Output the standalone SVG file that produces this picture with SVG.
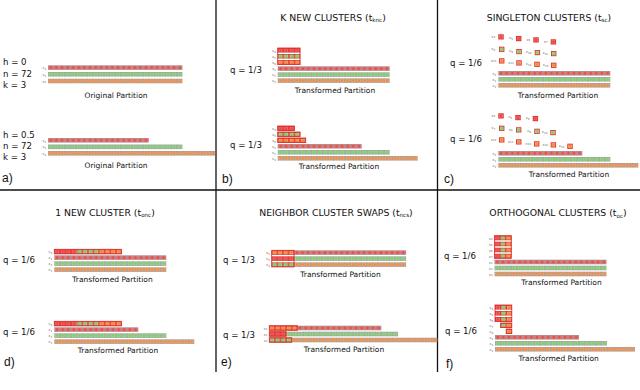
<svg xmlns="http://www.w3.org/2000/svg" xmlns:xlink="http://www.w3.org/1999/xlink" width="640" height="390" viewBox="0 0 640 390">
<style>
text{font-family:"DejaVu Sans","Liberation Sans",sans-serif;fill:#111}
.lbl{font-size:8.6px}
.ttl{font-size:9.3px;text-anchor:middle}
.cap{font-size:7.5px;text-anchor:middle}
.pl{font-family:"Liberation Sans",Arial,sans-serif;font-size:12px}
.cl{font-size:3.6px;fill:#555}
.cs{font-size:2.6px}
.sub{font-size:5.6px}
.ol{fill:none;stroke:#dd2222;stroke-width:0.8}
.div{stroke:#111;stroke-width:1.3;fill:none}
</style>
<defs>
<pattern id="pR" width="5.6" height="4.6" patternUnits="userSpaceOnUse"><rect width="5.6" height="4.6" fill="#9c9c9c"/><rect x="0.55" y="0.55" width="4.5" height="3.5" fill="#f26a6a"/><rect x="1.7" y="1.3" width="2.2" height="2" fill="#e04848"/></pattern>
<pattern id="pG" width="5.6" height="4.6" patternUnits="userSpaceOnUse"><rect width="5.6" height="4.6" fill="#9c9c9c"/><rect x="0.55" y="0.55" width="4.5" height="3.5" fill="#9cd98e"/><rect x="1.7" y="1.3" width="2.2" height="2" fill="#7cc96e"/></pattern>
<pattern id="pO" width="5.6" height="4.6" patternUnits="userSpaceOnUse"><rect width="5.6" height="4.6" fill="#9c9c9c"/><rect x="0.55" y="0.55" width="4.5" height="3.5" fill="#f6a266"/><rect x="1.7" y="1.3" width="2.2" height="2" fill="#ec8844"/></pattern>
<pattern id="pRb" width="5.6" height="4.6" patternUnits="userSpaceOnUse"><rect width="5.6" height="4.6" fill="#e02a26"/><rect x="0.6" y="0.6" width="4.4" height="3.4" fill="#f26a6a"/><rect x="1.7" y="1.3" width="2.2" height="2" fill="#e04848"/></pattern>
<pattern id="pGb" width="5.6" height="4.6" patternUnits="userSpaceOnUse"><rect width="5.6" height="4.6" fill="#e02a26"/><rect x="0.6" y="0.6" width="4.4" height="3.4" fill="#9cd98e"/><rect x="1.7" y="1.3" width="2.2" height="2" fill="#7cc96e"/></pattern>
<pattern id="pOb" width="5.6" height="4.6" patternUnits="userSpaceOnUse"><rect width="5.6" height="4.6" fill="#e02a26"/><rect x="0.6" y="0.6" width="4.4" height="3.4" fill="#f6a266"/><rect x="1.7" y="1.3" width="2.2" height="2" fill="#ec8844"/></pattern>
<pattern id="pMix" width="16.8" height="4.6" patternUnits="userSpaceOnUse"><rect width="16.8" height="4.6" fill="#e02a26"/><rect x="0.6" y="0.6" width="4.4" height="3.4" fill="#f26a6a"/><rect x="6.2" y="0.6" width="4.4" height="3.4" fill="#9cd98e"/><rect x="11.8" y="0.6" width="4.4" height="3.4" fill="#f6a266"/><rect x="1.7" y="1.3" width="2.2" height="2" fill="#e04848"/><rect x="7.3" y="1.3" width="2.2" height="2" fill="#7cc96e"/><rect x="12.9" y="1.3" width="2.2" height="2" fill="#ec8844"/></pattern>
<g id="sR"><rect width="5.4" height="5.2" fill="#e02a26"/><rect x="0.8" y="0.8" width="3.8" height="3.6" fill="#f26a6a"/><rect x="1.7" y="1.6" width="2" height="2" fill="#e04848"/></g>
<g id="sG"><rect width="5.4" height="5.2" fill="#e02a26"/><rect x="0.8" y="0.8" width="3.8" height="3.6" fill="#9cd98e"/><rect x="1.7" y="1.6" width="2" height="2" fill="#7cc96e"/></g>
<g id="sO"><rect width="5.4" height="5.2" fill="#e02a26"/><rect x="0.8" y="0.8" width="3.8" height="3.6" fill="#f6a266"/><rect x="1.7" y="1.6" width="2" height="2" fill="#ec8844"/></g>
</defs>
<rect width="640" height="390" fill="#fff"/>

<g id="dividers">
<line class="div" x1="0" y1="190" x2="640" y2="190"/>
<line class="div" x1="216" y1="0" x2="216" y2="372"/>
<line class="div" x1="437.5" y1="0" x2="437.5" y2="372"/>
</g>

<g id="panel-a">
<text class="lbl" x="3" y="65.3">h = 0</text>
<text class="lbl" x="3" y="76.5">n = 72</text>
<text class="lbl" x="3" y="87.5">k = 3</text>
<rect transform="translate(48,65.3)" width="134.4" height="4.6" fill="url(#pR)"/>
<rect transform="translate(48,72)" width="134.4" height="4.6" fill="url(#pG)"/>
<rect transform="translate(48,78.7)" width="134.4" height="4.6" fill="url(#pO)"/>
<text class="cl" x="42.5" y="69.2">c<tspan class="cs" dy="0.6">1</tspan></text>
<text class="cl" x="42.5" y="75.9">c<tspan class="cs" dy="0.6">2</tspan></text>
<text class="cl" x="42.5" y="82.6">c<tspan class="cs" dy="0.6">3</tspan></text>
<text class="cap" x="116" y="98">Original Partition</text>
<text class="lbl" x="3" y="138">h = 0.5</text>
<text class="lbl" x="3" y="149">n = 72</text>
<text class="lbl" x="3" y="159.5">k = 3</text>
<rect transform="translate(48,138)" width="100.8" height="4.6" fill="url(#pR)"/>
<rect transform="translate(48,144.5)" width="134.4" height="4.6" fill="url(#pG)"/>
<rect transform="translate(48,151)" width="167" height="4.6" fill="url(#pO)"/>
<text class="cl" x="42.5" y="141.9">c<tspan class="cs" dy="0.6">1</tspan></text>
<text class="cl" x="42.5" y="148.4">c<tspan class="cs" dy="0.6">2</tspan></text>
<text class="cl" x="42.5" y="154.9">c<tspan class="cs" dy="0.6">3</tspan></text>
<text class="cap" x="116" y="167.5">Original Partition</text>
<text class="pl" x="2" y="182">a)</text>
</g>

<g id="panel-b">
<text class="ttl" x="333" y="20.7">K NEW CLUSTERS (t<tspan class="sub" dy="1.5">knc</tspan><tspan dy="-1.5">)</tspan></text>
<text class="lbl" x="230" y="73">q = 1/3</text>
<rect transform="translate(277.7,48)" width="22.4" height="4.6" fill="url(#pRb)"/>
<rect transform="translate(277.7,54)" width="22.4" height="4.6" fill="url(#pGb)"/>
<rect transform="translate(277.7,60)" width="22.4" height="4.6" fill="url(#pOb)"/>
<rect class="ol" x="277.7" y="48" width="22.4" height="16.6"/>
<rect transform="translate(277.7,66.3)" width="112" height="4.6" fill="url(#pR)"/>
<rect transform="translate(277.7,72.3)" width="112" height="4.6" fill="url(#pG)"/>
<rect transform="translate(277.7,78.3)" width="112" height="4.6" fill="url(#pO)"/>
<text class="cl" x="272.3" y="51.9">c<tspan class="cs" dy="0.6">4</tspan></text>
<text class="cl" x="272.3" y="57.9">c<tspan class="cs" dy="0.6">5</tspan></text>
<text class="cl" x="272.3" y="63.9">c<tspan class="cs" dy="0.6">6</tspan></text>
<text class="cl" x="272.3" y="70.2">c<tspan class="cs" dy="0.6">1</tspan></text>
<text class="cl" x="272.3" y="76.2">c<tspan class="cs" dy="0.6">2</tspan></text>
<text class="cl" x="272.3" y="82.2">c<tspan class="cs" dy="0.6">3</tspan></text>
<text class="cap" x="335" y="93">Transformed Partition</text>
<text class="lbl" x="230" y="148">q = 1/3</text>
<rect transform="translate(277.7,126)" width="16.8" height="4.6" fill="url(#pRb)"/>
<rect transform="translate(277.7,132)" width="22.4" height="4.6" fill="url(#pGb)"/>
<rect transform="translate(277.7,138)" width="28" height="4.6" fill="url(#pOb)"/>
<rect class="ol" x="277.7" y="126" width="16.8" height="4.6"/>
<rect class="ol" x="277.7" y="132" width="22.4" height="4.6"/>
<rect class="ol" x="277.7" y="138" width="28" height="4.6"/>
<rect transform="translate(277.7,144)" width="84" height="4.6" fill="url(#pR)"/>
<rect transform="translate(277.7,150)" width="112" height="4.6" fill="url(#pG)"/>
<rect transform="translate(277.7,156)" width="140" height="4.6" fill="url(#pO)"/>
<text class="cl" x="272.3" y="129.9">c<tspan class="cs" dy="0.6">4</tspan></text>
<text class="cl" x="272.3" y="135.9">c<tspan class="cs" dy="0.6">5</tspan></text>
<text class="cl" x="272.3" y="141.9">c<tspan class="cs" dy="0.6">6</tspan></text>
<text class="cl" x="272.3" y="147.9">c<tspan class="cs" dy="0.6">1</tspan></text>
<text class="cl" x="272.3" y="153.9">c<tspan class="cs" dy="0.6">2</tspan></text>
<text class="cl" x="272.3" y="159.9">c<tspan class="cs" dy="0.6">3</tspan></text>
<text class="cap" x="339" y="169">Transformed Partition</text>
<text class="pl" x="222" y="183">b)</text>
</g>

<g id="panel-c">
<text class="ttl" x="549" y="20.7">SINGLETON CLUSTERS (t<tspan class="sub" dy="1.5">sc</tspan><tspan dy="-1.5">)</tspan></text>
<text class="lbl" x="450" y="65.5">q = 1/6</text>
<use xlink:href="#sR" x="498.3" y="34.3"/><text class="cl" x="491.5" y="37.5">c<tspan class="cs" dy="0.6">4</tspan></text>
<use xlink:href="#sR" x="516" y="36"/><text class="cl" x="509.3" y="39.2">c<tspan class="cs" dy="0.6">5</tspan></text>
<use xlink:href="#sR" x="533.3" y="37.3"/><text class="cl" x="526.6" y="40.5">c<tspan class="cs" dy="0.6">6</tspan></text>
<use xlink:href="#sR" x="550.7" y="39.3"/><text class="cl" x="544" y="42.5">c<tspan class="cs" dy="0.6">7</tspan></text>
<use xlink:href="#sG" x="499" y="46.7"/><text class="cl" x="491.5" y="49.9">c<tspan class="cs" dy="0.6">8</tspan></text>
<use xlink:href="#sG" x="516.3" y="49"/><text class="cl" x="509.3" y="52.2">c<tspan class="cs" dy="0.6">9</tspan></text>
<use xlink:href="#sG" x="534.7" y="50"/><text class="cl" x="526" y="53.2">c<tspan class="cs" dy="0.6">10</tspan></text>
<use xlink:href="#sG" x="551" y="51"/><text class="cl" x="542.7" y="54.2">c<tspan class="cs" dy="0.6">11</tspan></text>
<use xlink:href="#sO" x="499" y="58.3"/><text class="cl" x="491" y="61.5">c<tspan class="cs" dy="0.6">12</tspan></text>
<use xlink:href="#sO" x="516.3" y="60.3"/><text class="cl" x="508.3" y="63.5">c<tspan class="cs" dy="0.6">13</tspan></text>
<use xlink:href="#sO" x="534.3" y="61.7"/><text class="cl" x="526" y="64.9">c<tspan class="cs" dy="0.6">14</tspan></text>
<use xlink:href="#sO" x="551" y="62.7"/><text class="cl" x="543" y="65.9">c<tspan class="cs" dy="0.6">15</tspan></text>
<rect transform="translate(498.3,71)" width="112" height="4.6" fill="url(#pR)"/>
<rect transform="translate(498.3,77)" width="112" height="4.6" fill="url(#pG)"/>
<rect transform="translate(498.3,83)" width="112" height="4.6" fill="url(#pO)"/>
<text class="cl" x="492.5" y="74.9">c<tspan class="cs" dy="0.6">1</tspan></text>
<text class="cl" x="492.5" y="80.9">c<tspan class="cs" dy="0.6">2</tspan></text>
<text class="cl" x="492.5" y="86.9">c<tspan class="cs" dy="0.6">3</tspan></text>
<text class="cap" x="558" y="97.5">Transformed Partition</text>
<text class="lbl" x="450" y="142">q = 1/6</text>
<use xlink:href="#sR" x="498.3" y="113.3"/><text class="cl" x="491.5" y="116.5">c<tspan class="cs" dy="0.6">4</tspan></text>
<use xlink:href="#sR" x="515.3" y="115"/><text class="cl" x="508.6" y="118.2">c<tspan class="cs" dy="0.6">5</tspan></text>
<use xlink:href="#sR" x="532.7" y="116"/><text class="cl" x="526" y="119.2">c<tspan class="cs" dy="0.6">6</tspan></text>
<use xlink:href="#sG" x="499" y="125.7"/><text class="cl" x="491.5" y="128.9">c<tspan class="cs" dy="0.6">7</tspan></text>
<use xlink:href="#sG" x="516" y="127.3"/><text class="cl" x="509" y="130.5">c<tspan class="cs" dy="0.6">8</tspan></text>
<use xlink:href="#sG" x="534.3" y="128.7"/><text class="cl" x="527.3" y="131.9">c<tspan class="cs" dy="0.6">9</tspan></text>
<use xlink:href="#sG" x="550.3" y="130"/><text class="cl" x="542" y="133.2">c<tspan class="cs" dy="0.6">10</tspan></text>
<use xlink:href="#sO" x="499" y="137.3"/><text class="cl" x="491" y="140.5">c<tspan class="cs" dy="0.6">11</tspan></text>
<use xlink:href="#sO" x="516" y="139.3"/><text class="cl" x="508" y="142.5">c<tspan class="cs" dy="0.6">12</tspan></text>
<use xlink:href="#sO" x="534" y="141.3"/><text class="cl" x="525.7" y="144.5">c<tspan class="cs" dy="0.6">13</tspan></text>
<use xlink:href="#sO" x="550.7" y="142.3"/><text class="cl" x="542.4" y="145.5">c<tspan class="cs" dy="0.6">14</tspan></text>
<use xlink:href="#sO" x="567.3" y="143.7"/><text class="cl" x="559" y="146.9">c<tspan class="cs" dy="0.6">15</tspan></text>
<rect transform="translate(498.3,151)" width="84" height="4.6" fill="url(#pR)"/>
<rect transform="translate(498.3,157)" width="112" height="4.6" fill="url(#pG)"/>
<rect transform="translate(498.3,163)" width="140" height="4.6" fill="url(#pO)"/>
<text class="cl" x="492.5" y="154.9">c<tspan class="cs" dy="0.6">1</tspan></text>
<text class="cl" x="492.5" y="160.9">c<tspan class="cs" dy="0.6">2</tspan></text>
<text class="cl" x="492.5" y="166.9">c<tspan class="cs" dy="0.6">3</tspan></text>
<text class="cap" x="569" y="176.5">Transformed Partition</text>
<text class="pl" x="444" y="183">c)</text>
</g>

<g id="panel-d">
<text class="ttl" x="105" y="215.5">1 NEW CLUSTER (t<tspan class="sub" dy="1.5">onc</tspan><tspan dy="-1.5">)</tspan></text>
<text class="lbl" x="3" y="262.5">q = 1/6</text>
<rect transform="translate(54.3,249.3)" width="22.4" height="4.6" fill="url(#pRb)"/>
<rect transform="translate(76.7,249.3)" width="22.4" height="4.6" fill="url(#pGb)"/>
<rect transform="translate(99.1,249.3)" width="22.4" height="4.6" fill="url(#pOb)"/>
<rect class="ol" x="54.3" y="249.3" width="67.2" height="4.6"/>
<rect transform="translate(54.3,255.3)" width="112" height="4.6" fill="url(#pR)"/>
<rect transform="translate(54.3,261.3)" width="112" height="4.6" fill="url(#pG)"/>
<rect transform="translate(54.3,267.3)" width="112" height="4.6" fill="url(#pO)"/>
<text class="cl" x="48.5" y="253.2">c<tspan class="cs" dy="0.6">4</tspan></text>
<text class="cl" x="48.5" y="259.2">c<tspan class="cs" dy="0.6">1</tspan></text>
<text class="cl" x="48.5" y="265.2">c<tspan class="cs" dy="0.6">2</tspan></text>
<text class="cl" x="48.5" y="271.2">c<tspan class="cs" dy="0.6">3</tspan></text>
<text class="cap" x="112.5" y="282">Transformed Partition</text>
<text class="lbl" x="3" y="335">q = 1/6</text>
<rect transform="translate(54.3,321.3)" width="22.4" height="4.6" fill="url(#pRb)"/>
<rect transform="translate(76.7,321.3)" width="22.4" height="4.6" fill="url(#pGb)"/>
<rect transform="translate(99.1,321.3)" width="22.4" height="4.6" fill="url(#pOb)"/>
<rect class="ol" x="54.3" y="321.3" width="67.2" height="4.6"/>
<rect transform="translate(54.3,327.3)" width="84" height="4.6" fill="url(#pR)"/>
<rect transform="translate(54.3,333.3)" width="112" height="4.6" fill="url(#pG)"/>
<rect transform="translate(54.3,339.3)" width="140" height="4.6" fill="url(#pO)"/>
<text class="cl" x="48.5" y="325.2">c<tspan class="cs" dy="0.6">4</tspan></text>
<text class="cl" x="48.5" y="331.2">c<tspan class="cs" dy="0.6">1</tspan></text>
<text class="cl" x="48.5" y="337.2">c<tspan class="cs" dy="0.6">2</tspan></text>
<text class="cl" x="48.5" y="343.2">c<tspan class="cs" dy="0.6">3</tspan></text>
<text class="cap" x="118" y="353">Transformed Partition</text>
<text class="pl" x="4" y="366">d)</text>
</g>

<g id="panel-e">
<text class="ttl" x="336" y="215.5">NEIGHBOR CLUSTER SWAPS (t<tspan class="sub" dy="1.5">ncs</tspan><tspan dy="-1.5">)</tspan></text>
<text class="lbl" x="223" y="262.5">q = 1/3</text>
<rect transform="translate(271.7,250.3)" width="22.4" height="4.6" fill="url(#pOb)"/>
<rect transform="translate(294.1,250.3)" width="112" height="4.6" fill="url(#pR)"/>
<rect transform="translate(271.7,256.3)" width="22.4" height="4.6" fill="url(#pRb)"/>
<rect transform="translate(294.1,256.3)" width="112" height="4.6" fill="url(#pG)"/>
<rect transform="translate(271.7,262.3)" width="22.4" height="4.6" fill="url(#pGb)"/>
<rect transform="translate(294.1,262.3)" width="112" height="4.6" fill="url(#pO)"/>
<rect class="ol" x="271.7" y="250.3" width="22.4" height="16.6"/>
<text class="cl" x="266.2" y="254.2">c<tspan class="cs" dy="0.6">1</tspan></text>
<text class="cl" x="266.2" y="260.2">c<tspan class="cs" dy="0.6">2</tspan></text>
<text class="cl" x="266.2" y="266.2">c<tspan class="cs" dy="0.6">3</tspan></text>
<text class="cap" x="340.5" y="277">Transformed Partition</text>
<text class="lbl" x="223" y="337.5">q = 1/3</text>
<rect transform="translate(269.3,325.7)" width="28" height="4.6" fill="url(#pOb)"/>
<rect transform="translate(297.3,325.7)" width="84" height="4.6" fill="url(#pR)"/>
<rect transform="translate(269.3,331.7)" width="16.8" height="4.6" fill="url(#pRb)"/>
<rect transform="translate(286.1,331.7)" width="112" height="4.6" fill="url(#pG)"/>
<rect transform="translate(269.3,337.7)" width="22.4" height="4.6" fill="url(#pGb)"/>
<rect transform="translate(291.7,337.7)" width="145.6" height="4.6" fill="url(#pO)"/>
<rect class="ol" x="269.3" y="325.7" width="28" height="4.6"/>
<rect class="ol" x="269.3" y="331.7" width="16.8" height="4.6"/>
<rect class="ol" x="269.3" y="337.7" width="22.4" height="4.6"/>
<text class="cl" x="263.8" y="329.6">c<tspan class="cs" dy="0.6">1</tspan></text>
<text class="cl" x="263.8" y="335.6">c<tspan class="cs" dy="0.6">2</tspan></text>
<text class="cl" x="263.8" y="341.6">c<tspan class="cs" dy="0.6">3</tspan></text>
<text class="cap" x="344" y="352">Transformed Partition</text>
<text class="pl" x="221" y="366">e)</text>
</g>

<g id="panel-f">
<text class="ttl" x="558" y="216">ORTHOGONAL CLUSTERS (t<tspan class="sub" dy="1.5">oc</tspan><tspan dy="-1.5">)</tspan></text>
<text class="lbl" x="444" y="258.5">q = 1/6</text>
<rect transform="translate(494.5,235.7)" width="16.8" height="4.6" fill="url(#pMix)"/>
<rect transform="translate(494.5,241.7)" width="16.8" height="4.6" fill="url(#pMix)"/>
<rect transform="translate(494.5,247.7)" width="16.8" height="4.6" fill="url(#pMix)"/>
<rect transform="translate(494.5,253.7)" width="16.8" height="4.6" fill="url(#pMix)"/>
<rect class="ol" x="494.5" y="235.7" width="16.8" height="22.6"/>
<rect transform="translate(494.5,259.7)" width="112" height="4.6" fill="url(#pR)"/>
<rect transform="translate(494.5,265.7)" width="112" height="4.6" fill="url(#pG)"/>
<rect transform="translate(494.5,271.7)" width="112" height="4.6" fill="url(#pO)"/>
<text class="cl" x="489" y="239.6">c<tspan class="cs" dy="0.6">4</tspan></text>
<text class="cl" x="489" y="245.6">c<tspan class="cs" dy="0.6">5</tspan></text>
<text class="cl" x="489" y="251.6">c<tspan class="cs" dy="0.6">6</tspan></text>
<text class="cl" x="489" y="257.6">c<tspan class="cs" dy="0.6">7</tspan></text>
<text class="cl" x="489" y="263.6">c<tspan class="cs" dy="0.6">1</tspan></text>
<text class="cl" x="489" y="269.6">c<tspan class="cs" dy="0.6">2</tspan></text>
<text class="cl" x="489" y="275.6">c<tspan class="cs" dy="0.6">3</tspan></text>
<text class="cap" x="561.5" y="284.5">Transformed Partition</text>
<text class="lbl" x="445" y="334">q = 1/6</text>
<rect transform="translate(495,305)" width="16.8" height="4.6" fill="url(#pMix)"/>
<rect transform="translate(495,311)" width="16.8" height="4.6" fill="url(#pMix)"/>
<rect transform="translate(495,317)" width="16.8" height="4.6" fill="url(#pMix)"/>
<rect transform="translate(500.6,323)" width="5.6" height="4.6" fill="url(#pGb)"/>
<rect transform="translate(506.2,323)" width="5.6" height="4.6" fill="url(#pOb)"/>
<rect transform="translate(506.2,329)" width="5.6" height="4.6" fill="url(#pOb)"/>
<rect class="ol" x="495" y="305" width="16.8" height="16.6"/>
<rect class="ol" x="500.6" y="323" width="11.2" height="4.6"/>
<rect class="ol" x="506.2" y="329" width="5.6" height="4.6"/>
<rect transform="translate(495,335)" width="84" height="4.6" fill="url(#pR)"/>
<rect transform="translate(495,341)" width="112" height="4.6" fill="url(#pG)"/>
<rect transform="translate(495,347)" width="140" height="4.6" fill="url(#pO)"/>
<text class="cl" x="489.5" y="308.9">c<tspan class="cs" dy="0.6">4</tspan></text>
<text class="cl" x="489.5" y="314.9">c<tspan class="cs" dy="0.6">5</tspan></text>
<text class="cl" x="489.5" y="320.9">c<tspan class="cs" dy="0.6">6</tspan></text>
<text class="cl" x="489.5" y="326.9">c<tspan class="cs" dy="0.6">7</tspan></text>
<text class="cl" x="489.5" y="332.9">c<tspan class="cs" dy="0.6">8</tspan></text>
<text class="cl" x="489.5" y="338.9">c<tspan class="cs" dy="0.6">1</tspan></text>
<text class="cl" x="489.5" y="344.9">c<tspan class="cs" dy="0.6">2</tspan></text>
<text class="cl" x="489.5" y="350.9">c<tspan class="cs" dy="0.6">3</tspan></text>
<text class="cap" x="558.7" y="360.5">Transformed Partition</text>
<text class="pl" x="446" y="368">f)</text>
</g>
</svg>
